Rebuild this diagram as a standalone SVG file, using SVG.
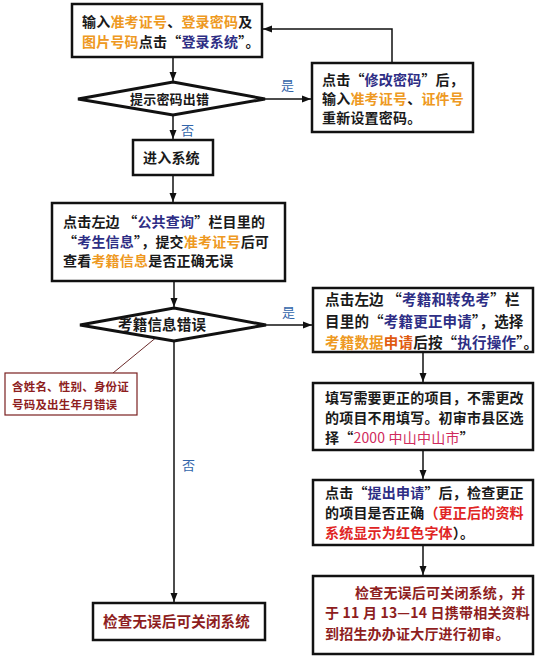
<svg xmlns="http://www.w3.org/2000/svg" width="540" height="661" viewBox="0 0 540 661">
<style>
.box{fill:#fff;stroke:#111;stroke-width:2.5}
.dia{fill:#fff;stroke:#111;stroke-width:3}
.t{font-family:"Noto Sans CJK SC","Noto Sans",sans-serif;font-size:14px;font-weight:700;fill:#1a1a1a;letter-spacing:0.2px}
.o{fill:#ee9922}
.n{fill:#2e2e85}
.r{fill:#e02424}
.m{fill:#d02a5c}
.d{fill:#8e1e1e}
.lbl{font-family:"Noto Sans CJK SC","Noto Sans",sans-serif;font-size:13px;fill:#3366aa}
.ln{stroke:#111;stroke-width:1.5;fill:none}
</style>
<defs>
<marker id="ah" markerWidth="9" markerHeight="8" refX="9" refY="4" orient="auto" markerUnits="userSpaceOnUse">
<path d="M0,0.5 L9,4 L0,7.5z" fill="#111"/>
</marker>
</defs>
<rect width="540" height="661" fill="#fff"/>

<g id="connectors">
<path class="ln" d="M173,57 V81" marker-end="url(#ah)"/>
<path class="ln" d="M265,99 H311" marker-end="url(#ah)"/>
<path class="ln" d="M392,63 V29 H263" marker-end="url(#ah)"/>
<path class="ln" d="M173,115 V139" marker-end="url(#ah)"/>
<path class="ln" d="M173,175 V202" marker-end="url(#ah)"/>
<path class="ln" d="M174,281 V307" marker-end="url(#ah)"/>
<path class="ln" d="M266,325 H312" marker-end="url(#ah)"/>
<path class="ln" d="M174,341 V602" marker-end="url(#ah)"/>
<path class="ln" d="M423,352 V382" marker-end="url(#ah)"/>
<path class="ln" d="M423,450 V479" marker-end="url(#ah)"/>
<path class="ln" d="M423,545 V575" marker-end="url(#ah)"/>
<path d="M158,336 L113,373" stroke="#6b2a2a" stroke-width="1" fill="none"/>
<text class="lbl" x="281" y="90">是</text>
<text class="lbl" x="181" y="135">否</text>
<text class="lbl" x="282" y="317">是</text>
<text class="lbl" x="182" y="470">否</text>
</g>

<g id="login">
<rect class="box" x="72" y="4" width="190" height="53"/>
<text class="t" x="82" y="27">输入<tspan class="o">准考证号</tspan>、<tspan class="o">登录密码</tspan>及</text>
<text class="t" x="82" y="47"><tspan class="o">图片号码</tspan>点击“<tspan class="n">登录系统</tspan>”。</text>
</g>

<g id="pwd-error">
<polygon class="dia" points="173,82 265,99 173,115 78,99"/>
<text class="t" x="130" y="104" style="font-size:13px">提示密码出错</text>
</g>

<g id="reset-pwd">
<rect class="box" x="312" y="63" width="161" height="69"/>
<text class="t" x="322" y="85">点击“<tspan class="n">修改密码</tspan>”后，</text>
<text class="t" x="322" y="104">输入<tspan class="o">准考证号</tspan>、<tspan class="o">证件号</tspan></text>
<text class="t" x="322" y="123">重新设置密码。</text>
</g>

<g id="enter">
<rect class="box" x="133" y="140" width="80" height="35"/>
<text class="t" x="143" y="163">进入系统</text>
</g>

<g id="query">
<rect class="box" x="52" y="203" width="233" height="78"/>
<text class="t" x="63" y="227">点击左边 “<tspan class="n">公共查询</tspan>”栏目里的</text>
<text class="t" x="63" y="247">“<tspan class="n">考生信息</tspan>”，提交<tspan class="o">准考证号</tspan>后可</text>
<text class="t" x="63" y="266">查看<tspan class="o">考籍信息</tspan>是否正确无误</text>
</g>

<g id="info-error">
<polygon class="dia" points="174,308 266,325 174,341 80,325"/>
<text class="t" x="118" y="330" style="font-size:14.5px">考籍信息错误</text>
</g>

<g id="note">
<rect x="5" y="373" width="132" height="42" fill="#fff" stroke="#7a2020" stroke-width="1.2"/>
<text class="t d" x="12" y="391" style="font-size:11.5px">含姓名、性别、身份证</text>
<text class="t d" x="12" y="409" style="font-size:11.5px">号码及出生年月错误</text>
</g>

<g id="close-left">
<rect class="box" x="93" y="603" width="172" height="37"/>
<text class="t d" x="103" y="627" style="font-size:14.5px">检查无误后可关闭系统</text>
</g>

<g id="apply">
<rect class="box" x="313" y="288" width="220" height="64"/>
<text class="t" x="325" y="305" style="font-size:14.5px">点击左边 “<tspan class="n">考籍和转免考</tspan>”栏</text>
<text class="t" x="325" y="327" style="font-size:14.5px">目里的“<tspan class="n">考籍更正申请</tspan>”，选择</text>
<text class="t" x="325" y="348" style="font-size:14.5px"><tspan class="o">考籍数据</tspan><tspan fill="#e05a10">申请</tspan>后按“<tspan class="n">执行操作</tspan>”。</text>
</g>

<g id="fill">
<rect class="box" x="313" y="383" width="220" height="67"/>
<text class="t" x="325" y="403">填写需要更正的项目，不需更改</text>
<text class="t" x="325" y="423">的项目不用填写。初审市县区选</text>
<text class="t" x="325" y="443">择“<tspan class="m" style="font-weight:400">2000 中山中山市</tspan>”</text>
</g>

<g id="submit">
<rect class="box" x="313" y="480" width="220" height="65"/>
<text class="t" x="325" y="498">点击“<tspan class="n">提出申请</tspan>”后，检查更正</text>
<text class="t" x="325" y="518">的项目是否正确<tspan class="r">（更正后的资料</tspan></text>
<text class="t" x="325" y="538"><tspan class="r">系统显示为红色字体</tspan>）。</text>
</g>

<g id="close-right">
<rect class="box" x="313" y="576" width="220" height="78"/>
<text class="t d" x="355" y="598">检查无误后可关闭系统，并</text>
<text class="t d" x="325" y="618">于 11 月 13—14 日携带相关资料</text>
<text class="t d" x="325" y="639">到招生办办证大厅进行初审。</text>
</g>
</svg>
